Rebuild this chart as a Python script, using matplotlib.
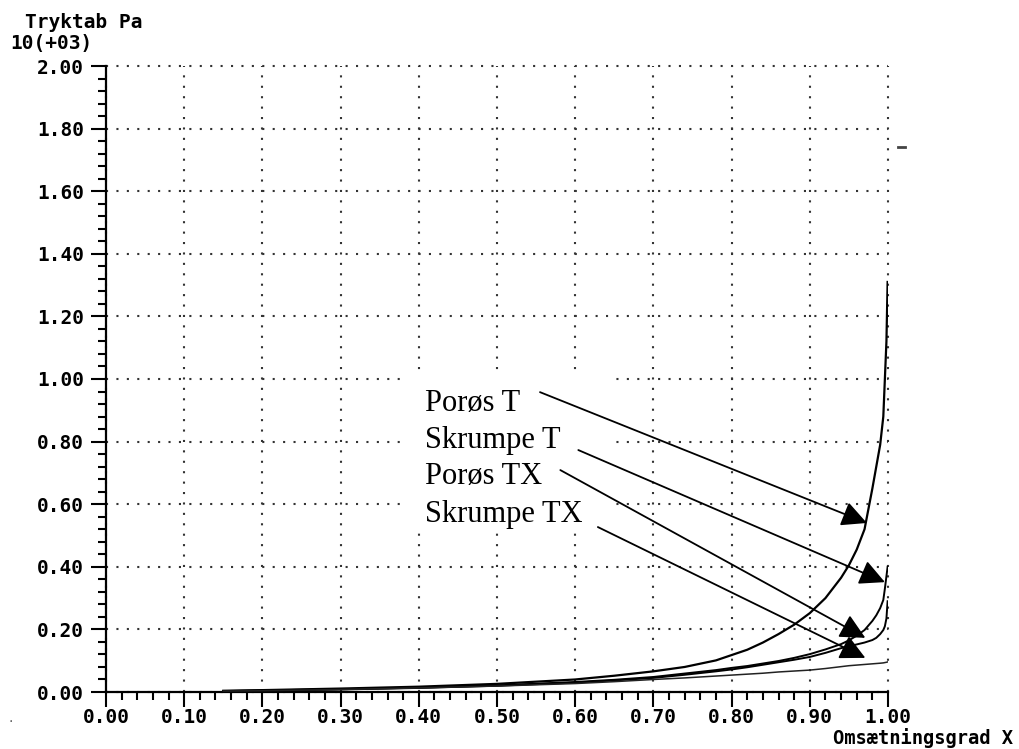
import matplotlib
matplotlib.use('Agg')
import matplotlib.pyplot as plt
from matplotlib.lines import Line2D
from matplotlib.patches import Rectangle
import numpy as np

# conversion grade X and pressure drop (10^3 Pa)
x_conv = [0.15, 0.20, 0.30, 0.40, 0.50, 0.60, 0.65, 0.70, 0.74, 0.78, 0.80, 0.82, 0.84, 0.86,
          0.88, 0.90, 0.92, 0.94, 0.95, 0.96, 0.97, 0.98, 0.985, 0.99, 0.994, 0.996, 0.998, 0.9995]
porous_T = [0.004, 0.006, 0.011, 0.017, 0.026, 0.040, 0.052, 0.066, 0.080, 0.101, 0.118, 0.135,
            0.158, 0.185, 0.215, 0.252, 0.300, 0.365, 0.405, 0.455, 0.520, 0.650, 0.720, 0.790,
            0.880, 1.000, 1.120, 1.310]
shrink_T = [0.003, 0.005, 0.009, 0.014, 0.021, 0.032, 0.039, 0.048, 0.059, 0.070, 0.077, 0.083,
            0.091, 0.099, 0.109, 0.121, 0.136, 0.153, 0.165, 0.180, 0.198, 0.227, 0.245, 0.268,
            0.294, 0.330, 0.370, 0.400]
porous_TX = [0.003, 0.004, 0.008, 0.013, 0.020, 0.030, 0.037, 0.045, 0.055, 0.066, 0.072, 0.079,
             0.087, 0.095, 0.103, 0.112, 0.125, 0.140, 0.146, 0.152, 0.158, 0.166, 0.173, 0.185,
             0.198, 0.210, 0.235, 0.290]
shrink_TX = [0.003, 0.004, 0.008, 0.013, 0.019, 0.027, 0.033, 0.040, 0.045, 0.051, 0.054, 0.057,
             0.060, 0.064, 0.067, 0.070, 0.075, 0.081, 0.084, 0.086, 0.088, 0.090, 0.091, 0.092,
             0.093, 0.094, 0.095, 0.096]

labels = ['Porøs T', 'Skrumpe T', 'Porøs TX', 'Skrumpe TX']

MONO = dict(family='DejaVu Sans Mono', weight='bold', size=14)

fig = plt.figure(figsize=(10.19, 7.49), dpi=100)
ax = fig.add_axes([106/1019, 1-692/749, 782/1019, 626/749])
ax.set_axisbelow(True)

ax.plot(x_conv, porous_T, color='black', lw=1.6, zorder=3)
ax.plot(x_conv, shrink_T, color='black', lw=1.4, zorder=3)
ax.plot(x_conv, porous_TX, color='black', lw=1.4, zorder=3)
ax.plot(x_conv, shrink_TX, color='#222222', lw=1.1, zorder=3)

ax.set_xlim(0, 1.0)
ax.set_ylim(0, 2.0)
ax.set_xticks(np.arange(0, 1.001, 0.1))
ax.set_xticks(np.arange(0, 1.001, 0.02), minor=True)
ax.set_yticks(np.arange(0, 2.001, 0.2))
ax.set_yticks(np.arange(0, 2.001, 0.04), minor=True)
ax.set_xticklabels(['%.2f' % v for v in np.arange(0, 1.001, 0.1)], **MONO)
ax.set_yticklabels(['%.2f' % v for v in np.arange(0, 2.001, 0.2)], **MONO)
ax.tick_params(which='major', direction='out', length=11, width=1.5)
ax.tick_params(axis='x', which='major', pad=0.5)
ax.tick_params(axis='y', which='major', pad=5)
ax.tick_params(which='minor', direction='out', length=6, width=1.5)

for s in ['top', 'right']:
    ax.spines[s].set_visible(False)
for s in ['left', 'bottom']:
    ax.spines[s].set_linewidth(1.6)

ax.grid(True, which='major', color='#333333', linestyle=(0, (1, 4)), lw=1.5)
for gl in ax.get_xgridlines() + ax.get_ygridlines():
    gl.set_clip_on(False)

# white box behind the labels
ax.add_patch(Rectangle((0.382, 0.511), 0.27, 0.508, facecolor='white', edgecolor='none', zorder=1))

text_pos = [(0.408, 0.898), (0.408, 0.780), (0.408, 0.665), (0.408, 0.543)]
arrow_start = [(0.555, 0.958), (0.604, 0.773), (0.581, 0.709), (0.629, 0.527)]
arrow_tip = [(0.973, 0.540), (0.996, 0.351), (0.971, 0.173), (0.971, 0.109)]

for lab, tp, st, tip in zip(labels, text_pos, arrow_start, arrow_tip):
    ax.text(tp[0], tp[1], lab, family='Liberation Serif', fontsize=22, va='baseline', ha='left', zorder=4)
    ax.annotate('', xy=tip, xytext=st,
                arrowprops=dict(arrowstyle='-|>,head_length=1.1,head_width=0.55', mutation_scale=14,
                                color='black', lw=1.3, shrinkA=0, shrinkB=0), zorder=4)

fig.text(25/1019, 1-23/749, 'Tryktab Pa', va='center', ha='left', **MONO)
fig.text(10/1019, 1-44/749, '10(+03)', va='center', ha='left', **MONO)
fig.text(1013/1019, 1-748.5/749, 'Omsætningsgrad X', va='bottom', ha='right',
         family='DejaVu Sans Mono', weight='bold', size=13.5)
fig.text(8/1019, 1-718/749, '.', va='center', ha='left', fontsize=10, color='#555555')
fig.add_artist(Line2D([898/1019, 905/1019], [1-147/749, 1-147/749], color='#444444', lw=2))

fig.savefig('out.png', dpi=100)
